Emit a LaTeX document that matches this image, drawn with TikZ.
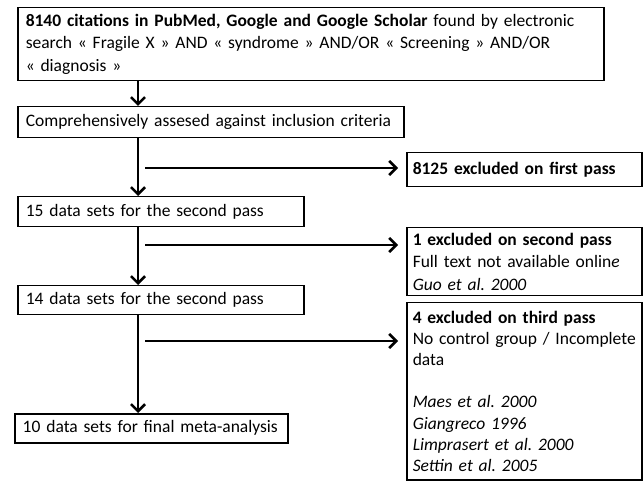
\documentclass[tikz,border=0pt]{standalone}
\usepackage{fontspec}
\setmainfont{Carlito}[WordSpace=0.75]
\usetikzlibrary{arrows.meta}
\frenchspacing

\begin{document}
\begin{tikzpicture}[x=1pt,y=-1pt,
  box/.style={draw,line width=1.5pt,anchor=north west,align=left,inner xsep=8pt,inner ysep=2pt,font=\fontsize{17.5}{22.5}\selectfont},
  side/.style={box,inner xsep=6pt,text width=223pt},
  arr/.style={-{Straight Barb[length=7pt,width=14pt]},line width=2.6pt}]
  \useasboundingbox (0,0) rectangle (643,481);
  \coordinate (spine) at (138,0);
  \node[box,text width=570pt,minimum height=73pt] (search) at (17,7) {\textbf{8140 citations in PubMed, Google and Google Scholar} found by electronic\\search « Fragile X » AND « syndrome » AND/OR « Screening » AND/OR\\« diagnosis »};
  \node[box,text width=370pt,minimum height=31pt] (assess) at (17,106) {Comprehensively assesed against inclusion criteria};
  \node[box,text width=270pt,minimum height=30pt] (pass2) at (17,196) {15 data sets for the second pass};
  \node[box,text width=270pt,minimum height=29pt] (pass3) at (17,285) {14 data sets for the second pass};
  \node[box,text width=257pt,minimum height=29pt] (final) at (14,413) {10 data sets for final meta-analysis};
  \node[side,minimum height=34pt] (excl1) at (406,152) {\textbf{8125 excluded on first pass}};
  \node[side,minimum height=68pt] (excl2) at (406,227) {\textbf{1 excluded on second pass}\\Full text not available onlin\textit{e}\\\textit{Guo et al. 2000}};
  \node[side,minimum height=177pt,font=\fontsize{17.5}{21.2}\selectfont] (excl3) at (406,302) {\textbf{4 excluded on third pass}\\\mbox{No control group / Incomplete}\\data\\[21.2pt]\textit{Maes et al. 2000}\\\textit{Giangreco 1996}\\\textit{Limprasert et al. 2000}\\\textit{Settin et al. 2005}};
  \coordinate (fork1) at (145,168);
  \coordinate (fork2) at (145,245);
  \coordinate (fork3) at (145,341);
  \draw[arr] (search.south -| spine) -- (assess.north -| spine);
  \draw[arr] (assess.south -| spine) -- (pass2.north -| spine);
  \draw[arr] (pass2.south -| spine) -- (pass3.north -| spine);
  \draw[arr] (pass3.south -| spine) -- (final.north -| spine);
  \draw[arr,shorten >=8pt] (fork1) -- (fork1 -| excl1.west);
  \draw[arr,shorten >=8pt] (fork2) -- (fork2 -| excl2.west);
  \draw[arr,shorten >=8pt] (fork3) -- (fork3 -| excl3.west);
\end{tikzpicture}
\end{document}
